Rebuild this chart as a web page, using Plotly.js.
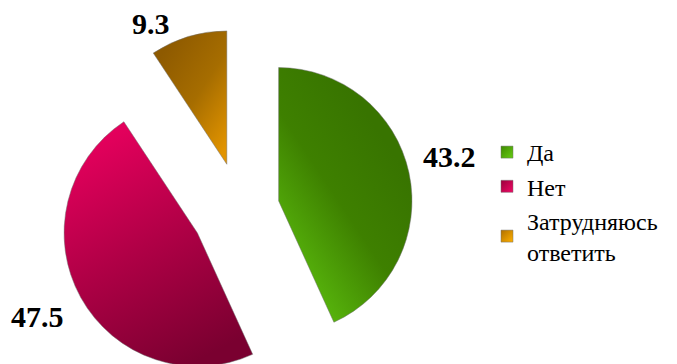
<!DOCTYPE html>
<html>
<head>
<meta charset="utf-8">
<script src="https://cdn.plot.ly/plotly-3.0.1.min.js"></script>
<style>
  html, body { margin: 0; padding: 0; overflow: hidden; background: #ffffff; width: 677px; height: 364px; }
  #chart { width: 677px; height: 400px; }
</style>
</head>
<body>
<div id="chart"></div>
<svg width="0" height="0" style="position:absolute;left:0;top:0">
  <defs>
    <linearGradient id="gradDa" x1="0.75" y1="0.25" x2="0.2" y2="0.95">
      <stop offset="0" stop-color="#387400"/>
      <stop offset="0.45" stop-color="#3e8000"/>
      <stop offset="1" stop-color="#5cbe0e"/>
    </linearGradient>
    <linearGradient id="gradNet" x1="0.25" y1="0.0" x2="0.65" y2="1">
      <stop offset="0" stop-color="#e8005e"/>
      <stop offset="0.5" stop-color="#b00046"/>
      <stop offset="1" stop-color="#7a0030"/>
    </linearGradient>
    <linearGradient id="gradZ" x1="0.2" y1="0.1" x2="0.9" y2="0.95">
      <stop offset="0" stop-color="#8e5a00"/>
      <stop offset="0.5" stop-color="#a66d00"/>
      <stop offset="1" stop-color="#e29400"/>
    </linearGradient>
    <linearGradient id="legDa" x1="0" y1="0" x2="1" y2="1">
      <stop offset="0" stop-color="#3f8a00"/>
      <stop offset="1" stop-color="#66cc14"/>
    </linearGradient>
    <linearGradient id="legNet" x1="0" y1="0" x2="1" y2="1">
      <stop offset="0" stop-color="#9a003c"/>
      <stop offset="1" stop-color="#f00a66"/>
    </linearGradient>
    <linearGradient id="legZ" x1="0" y1="0" x2="1" y2="1">
      <stop offset="0" stop-color="#b07000"/>
      <stop offset="1" stop-color="#ffb000"/>
    </linearGradient>
  </defs>
</svg>
<script>
// ---- data ----
const categories = ['Да', 'Нет', 'Затрудняюсь<br>ответить'];
const values = [43.2, 47.5, 9.3];
const valueLabels = ['43.2', '47.5', '9.3'];

// ---- layout helpers (pixel -> paper, plot area is 677 x 400) ----
const W = 677, H = 400;
const px = x => x / W;
const py = y => 1 - y / H;
const SERIF = 'Liberation Serif';

const trace = {
  type: 'pie',
  labels: categories,
  values: values,
  sort: false,
  direction: 'clockwise',
  rotation: 0,
  pull: [0.294, 0.368, 0.352],
  textinfo: 'none',
  hoverinfo: 'skip',
  marker: {
    colors: ['#45900a', '#b0004a', '#b07808'],
    line: { color: 'rgba(110,110,110,0.6)', width: 0.8 }
  },
  domain: { x: [0.08, 0.63], y: [py(391.6), py(26.8)] }
};

const labelPos = [[449.5, 156], [37.5, 316], [151, 23]];
const annotations = valueLabels.map((t, i) => ({
  text: '<b>' + t + '</b>',
  x: px(labelPos[i][0]), y: py(labelPos[i][1]),
  xref: 'paper', yref: 'paper',
  xanchor: 'center', yanchor: 'middle',
  showarrow: false,
  font: { family: SERIF, size: 30, color: '#000000' }
}));

const layout = {
  width: W, height: H,
  margin: { l: 0, r: 0, t: 0, b: 0 },
  paper_bgcolor: '#ffffff',
  plot_bgcolor: '#ffffff',
  font: { family: SERIF, color: '#000000' },
  showlegend: true,
  legend: {
    x: px(487), y: py(130), xanchor: 'left', yanchor: 'top',
    font: { family: SERIF, size: 24, color: '#000000' },
    bgcolor: 'rgba(0,0,0,0)', tracegroupgap: 0
  },
  annotations: annotations
};

Plotly.newPlot('chart', [trace], layout, { staticPlot: true, displayModeBar: false }).then(gd => {
  const sliceGrads = ['gradDa', 'gradNet', 'gradZ'];
  const legGrads = ['legDa', 'legNet', 'legZ'];
  gd.querySelectorAll('g.slice path.surface').forEach((p, i) => {
    if (sliceGrads[i]) p.style.fill = 'url(#' + sliceGrads[i] + ')';
  });
  gd.querySelectorAll('g.legend path.legendpie').forEach((p, i) => {
    if (legGrads[i]) p.style.fill = 'url(#' + legGrads[i] + ')';
  });
});
</script>
</body>
</html>
